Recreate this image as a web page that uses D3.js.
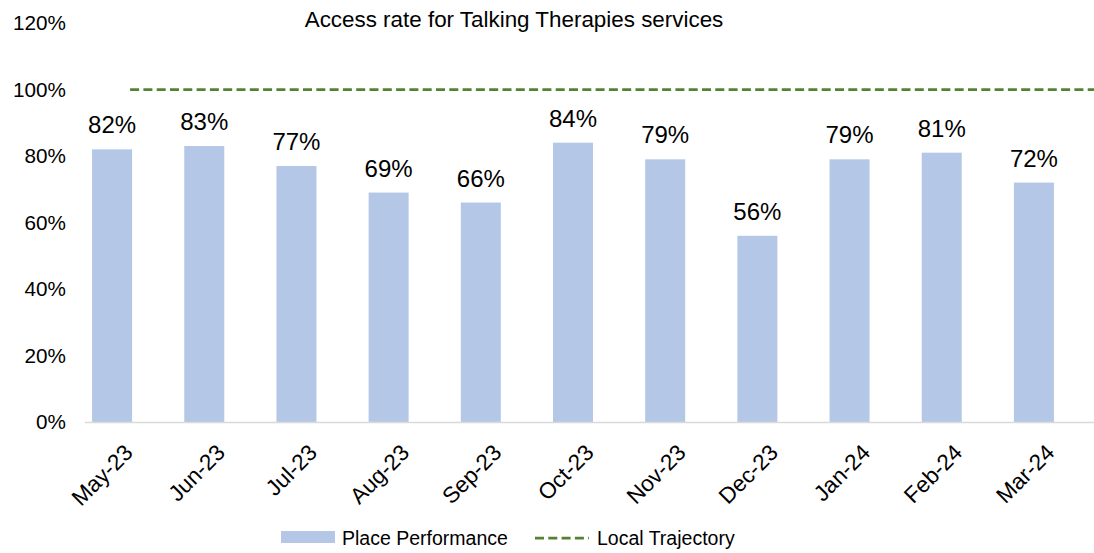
<!DOCTYPE html>
<html><head><meta charset="utf-8">
<script src="https://cdn.jsdelivr.net/npm/d3@7"></script>
<style>body{margin:0;background:#fff;} text{font-family:"Liberation Sans",Arial,sans-serif;fill:#000;}</style>
</head><body>
<svg id="c" width="1094" height="553"></svg>
<script>
const categories = ["May-23","Jun-23","Jul-23","Aug-23","Sep-23","Oct-23","Nov-23","Dec-23","Jan-24","Feb-24","Mar-24"];
const performance = [82,83,77,69,66,84,79,56,79,81,72];
const trajectory = 100;
const yTicks = [0,20,40,60,80,100,120];

const svg = d3.select("#c");
const x = d3.scaleBand().domain(categories).range([66,1080]).paddingInner(0.566).paddingOuter(0.283);
const y = d3.scaleLinear().domain([0,120]).range([422,23]);

// title
svg.append("text").attr("x",514).attr("y",27).attr("text-anchor","middle")
  .style("font-size","22.4px").text("Access rate for Talking Therapies services");

// y axis labels
svg.selectAll(".yt").data(yTicks).enter().append("text")
  .attr("x",66).attr("y",d=>y(d)+7).attr("text-anchor","end")
  .style("font-size","20.7px").text(d=>d+"%");

// bars
svg.selectAll(".bar").data(performance).enter().append("rect")
  .attr("x",(d,i)=>x(categories[i])).attr("width",x.bandwidth())
  .attr("y",d=>y(d)).attr("height",d=>y(0)-y(d)).attr("fill","#B4C7E7");

// axis line
svg.append("line").attr("x1",85).attr("x2",1094).attr("y1",y(0)+0.5).attr("y2",y(0)+0.5)
  .attr("stroke","#D9D9D9").attr("stroke-width",1.5);

// data labels
svg.selectAll(".dl").data(performance).enter().append("text")
  .attr("x",(d,i)=>x(categories[i])+x.bandwidth()/2).attr("y",d=>y(d)-16)
  .attr("text-anchor","middle").style("font-size","24px").text(d=>d+"%");

// trajectory line
svg.append("line").attr("x1",x(categories[0])+x.bandwidth()-2).attr("x2",1094)
  .attr("y1",y(trajectory)).attr("y2",y(trajectory))
  .attr("stroke","#548235").attr("stroke-width",2.75).attr("stroke-dasharray","9,4.3");

// x labels
svg.selectAll(".xl").data(categories).enter().append("text")
  .attr("text-anchor","end")
  .attr("transform",d=>`translate(${x(d)+x.bandwidth()/2+22},${454}) rotate(-45)`)
  .style("font-size","22.5px").text(d=>d);

// legend
svg.append("rect").attr("x",281).attr("y",531).attr("width",54).attr("height",12).attr("fill","#B4C7E7");
svg.append("text").attr("x",342).attr("y",545).style("font-size","19.5px").text("Place Performance");
svg.append("line").attr("x1",535).attr("x2",589).attr("y1",538).attr("y2",538)
  .attr("stroke","#548235").attr("stroke-width",2.75).attr("stroke-dasharray","9,4.3");
svg.append("text").attr("x",597).attr("y",545).style("font-size","19.5px").text("Local Trajectory");
</script>
</body></html>
